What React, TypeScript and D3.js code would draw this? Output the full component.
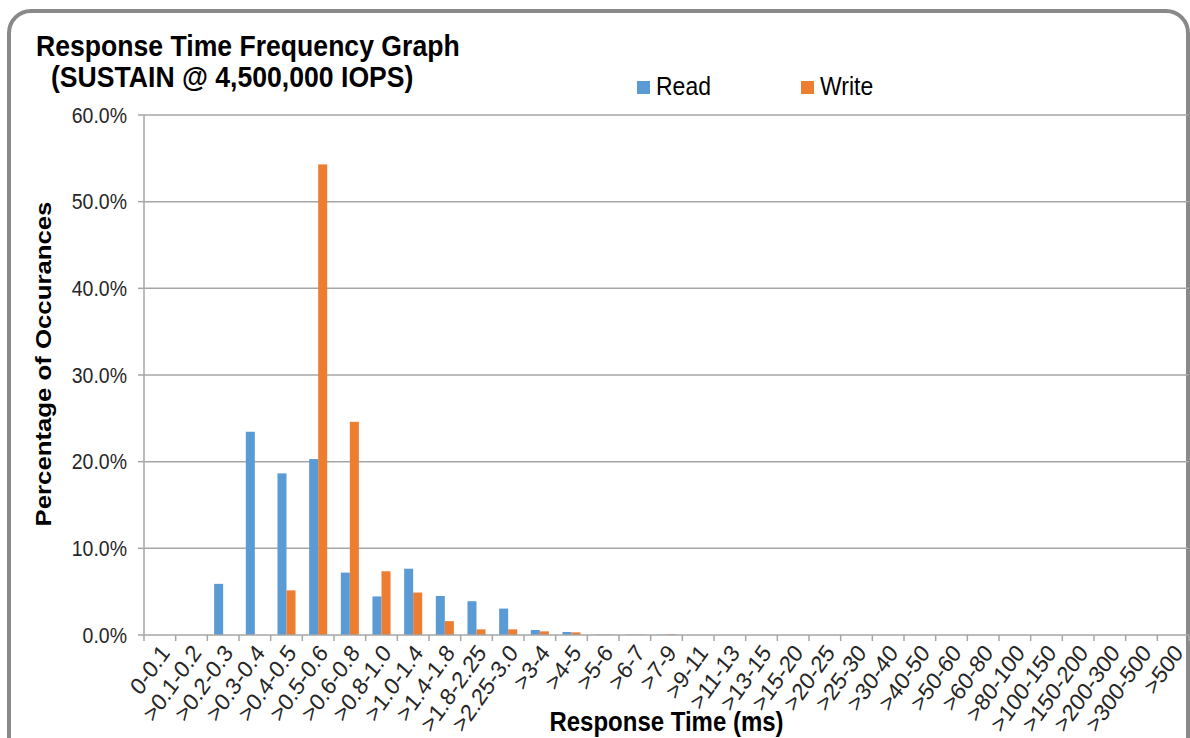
import * as d3 from "d3";

const categories = [
  "0-0.1", ">0.1-0.2", ">0.2-0.3", ">0.3-0.4", ">0.4-0.5", ">0.5-0.6", ">0.6-0.8",
  ">0.8-1.0", ">1.0-1.4", ">1.4-1.8", ">1.8-2.25", ">2.25-3.0", ">3-4", ">4-5",
  ">5-6", ">6-7", ">7-9", ">9-11", ">11-13", ">13-15", ">15-20", ">20-25",
  ">25-30", ">30-40", ">40-50", ">50-60", ">60-80", ">80-100", ">100-150",
  ">150-200", ">200-300", ">300-500", ">500",
];

const readPct = [
  0, 0, 5.9, 23.45, 18.65, 20.3, 7.2, 4.45, 7.65, 4.5, 3.9, 3.05, 0.58, 0.35,
  0.05, 0.04, 0.02, 0, 0, 0, 0, 0, 0, 0, 0, 0, 0, 0, 0, 0, 0, 0, 0,
];

const writePct = [
  0, 0, 0, 0, 5.15, 54.3, 24.6, 7.35, 4.9, 1.6, 0.65, 0.65, 0.42, 0.3,
  0.05, 0.04, 0.1, 0, 0, 0, 0, 0, 0, 0, 0, 0, 0, 0, 0, 0, 0, 0, 0,
];

const yTicks = [0, 10, 20, 30, 40, 50, 60];

const series = [
  { key: "Read", color: "#5B9BD5", values: readPct },
  { key: "Write", color: "#ED7D31", values: writePct },
];

const W = 1190;
const H = 738;
const plot = { left: 144, right: 1189, top: 115, bottom: 635 };
const font = "'Liberation Sans', Arial, sans-serif";
// the source picture is a little taller than it is wide, text included
const stretch = 1.12;

export default function App() {
  const x = d3
    .scaleBand<string>()
    .domain(categories)
    .range([plot.left, plot.right])
    .padding(0);
  const bw = x.bandwidth();
  const inner = d3
    .scaleBand<string>()
    .domain(series.map((s) => s.key))
    .range([bw * 0.215, bw * 0.785])
    .padding(0);
  const y = d3.scaleLinear().domain([0, 60]).range([plot.bottom, plot.top]);

  const gridColor = "#A6A6A6";

  return (
    <div style={{ position: "absolute", left: 0, top: 0 }}>
      <svg width={W} height={H} style={{ display: "block" }}>
        <rect x={0} y={0} width={W} height={H} fill="#fff" />
        <rect
          x={9}
          y={11}
          width={1179}
          height={760}
          rx={22}
          fill="#fff"
          stroke="#898989"
          strokeWidth={4}
        />

        {/* title */}
        <g fontFamily={font} fontWeight="bold" fontSize={26.6} fill="#000">
          <text transform={`translate(36,56) scale(1,${stretch})`}>
            Response Time Frequency Graph
          </text>
          <text transform={`translate(51,87) scale(1,${stretch})`}>
            (SUSTAIN @ 4,500,000 IOPS)
          </text>
        </g>

        {/* legend */}
        {series.map((s, i) => {
          const lx = [637, 801][i];
          return (
            <g key={s.key}>
              <rect x={lx} y={81} width={13} height={13} fill={s.color} />
              <text
                transform={`translate(${lx + 19},95) scale(1,${stretch})`}
                fontFamily={font}
                fontSize={23}
                fill="#000"
              >
                {s.key}
              </text>
            </g>
          );
        })}

        {/* gridlines */}
        {yTicks.map((t) => (
          <g key={t}>
            {t > 0 && (
              <line
                x1={plot.left}
                x2={plot.right}
                y1={y(t)}
                y2={y(t)}
                stroke={gridColor}
                strokeWidth={1.5}
              />
            )}
            <line x1={plot.left - 6} x2={plot.left} y1={y(t)} y2={y(t)} stroke={gridColor} strokeWidth={1.5} />
            <text
              transform={`translate(127,${y(t)}) scale(1,${stretch})`}
              dy="0.35em"
              textAnchor="end"
              fontFamily={font}
              fontSize={19.5}
              fill="#262626"
            >
              {t.toFixed(1) + "%"}
            </text>
          </g>
        ))}

        {/* bars */}
        {series.map((s) => (
          <g key={s.key}>
            {categories.map((c, i) =>
              s.values[i] > 0 ? (
                <rect
                  key={c}
                  x={(x(c) ?? 0) + (inner(s.key) ?? 0)}
                  y={y(s.values[i])}
                  width={inner.bandwidth()}
                  height={plot.bottom - y(s.values[i])}
                  fill={s.color}
                />
              ) : null
            )}
          </g>
        ))}

        {/* axes */}
        <line x1={plot.left} x2={plot.left} y1={plot.top} y2={plot.bottom} stroke={gridColor} strokeWidth={1.5} />
        <line x1={plot.left} x2={plot.right} y1={plot.bottom} y2={plot.bottom} stroke={gridColor} strokeWidth={1.5} />
        {categories.concat(["__end"]).map((c, i) => {
          const tx = plot.left + i * bw;
          return (
            <line key={c} x1={tx} x2={tx} y1={plot.bottom} y2={plot.bottom + 6} stroke={gridColor} strokeWidth={1.5} />
          );
        })}

        {/* x labels */}
        {categories.map((c) => {
          const cx = (x(c) ?? 0) + bw / 2;
          return (
            <text
              key={c}
              transform={`translate(${cx + 5},${plot.bottom + 13}) scale(1,${stretch}) rotate(-52)`}
              textAnchor="end"
              dy="0.35em"
              fontFamily={font}
              fontSize={21.5}
              fill="#262626"
            >
              {c}
            </text>
          );
        })}

        {/* axis titles */}
        <text
          transform={`translate(51,364) rotate(-90) scale(${stretch},1)`}
          textAnchor="middle"
          fontFamily={font}
          fontWeight="bold"
          fontSize={23}
          fill="#000"
        >
          Percentage of Occurances
        </text>
        <text
          transform={`translate(${(plot.left + plot.right) / 2},731) scale(1,${stretch})`}
          textAnchor="middle"
          fontFamily={font}
          fontWeight="bold"
          fontSize={24}
          fill="#000"
        >
          Response Time (ms)
        </text>
      </svg>
    </div>
  );
}
